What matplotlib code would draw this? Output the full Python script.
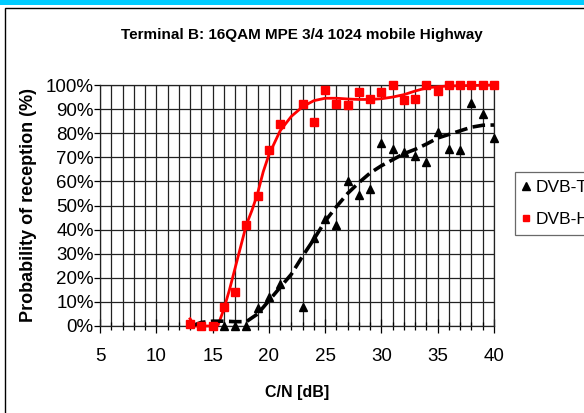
import matplotlib
matplotlib.use("Agg")
import matplotlib.pyplot as plt
from matplotlib.patches import Rectangle
from matplotlib.ticker import MultipleLocator, FuncFormatter

plt.rcParams['font.family'] = ['Liberation Sans', 'DejaVu Sans']

# Measured points
dvbh_x = [13, 14, 15, 16, 17, 18, 19, 20, 21, 23, 24, 25, 26, 27, 28, 29, 30,
          31, 32, 33, 34, 35, 36, 37, 38, 39, 40]
dvbh_y = [1, 0, 0, 8, 14, 42, 54, 73, 84, 92, 84.5, 97.8, 92, 91.6, 97.2, 94.3, 97.2,
          100, 93.6, 94.3, 100, 97.6, 100, 100, 100, 100, 100]

dvbt_x = [16, 17, 18, 19, 20, 21, 23, 24, 25, 26, 27, 28, 29, 30, 31, 32, 33,
          34, 35, 36, 37, 38, 39, 40]
dvbt_y = [0, 0, 0, 7.5, 12, 17.5, 8, 36.7, 44.3, 42, 60.2, 54.2, 57, 75.9, 73.5, 72.3, 70.5,
          68, 80.4, 73.3, 73, 92.7, 87.8, 78]

# Trend lines
trend_h_x = [13, 13.4, 14, 15, 15.5, 16, 16.5, 17, 17.5, 18, 18.5, 19, 19.5, 20, 21, 22,
             23, 24, 25, 26, 27, 28, 29, 30, 31, 32, 33, 34, 35, 36, 37, 38, 39, 40]
trend_h_y = [3, 0, 0, 0, 0.5, 7, 15, 24, 33, 42, 48, 55, 64, 71, 81, 87,
             91, 93.5, 94.5, 94.5, 94.2, 94, 94, 94.3, 95, 96, 97.5, 98.8, 99.3, 99.6, 99.7, 99.8, 99.9, 100]

trend_t_x = [13.3, 14, 15, 16, 17, 18, 19, 20, 21, 22, 23, 24, 25, 26, 27, 28, 29, 30,
             31, 32, 33, 34, 35, 36, 37, 38, 39, 40]
trend_t_y = [0.3, 1.5, 2, 2, 1.8, 1.8, 5, 10.5, 16, 21.5, 29, 36, 43.5, 49.5, 55, 59.5, 63.5, 66.5,
             69, 71.5, 73.3, 75.5, 78, 79.5, 81, 82.5, 83.3, 83.4]

title = "Terminal B: 16QAM MPE 3/4 1024 mobile Highway"
xlabel = "C/N [dB]"
ylabel = "Probability of reception (%)"

W, H = 584, 413
fig = plt.figure(figsize=(W / 100, H / 100), dpi=100)

# decorative frame
fig.patches.append(Rectangle((0, 1 - 5 / H), 1, 5 / H, transform=fig.transFigure,
                             facecolor='#00CCFF', edgecolor='none', zorder=0))
fig.patches.append(Rectangle((5 / W, -0.1), 2, (H - 8) / H + 0.1, transform=fig.transFigure,
                             facecolor='none', edgecolor='black', linewidth=1.0, zorder=0))

L, R, T, B = 100, 494, 85, 326
ax = fig.add_axes([L / W, (H - B) / H, (R - L) / W, (B - T) / H])

ax.plot(trend_h_x, trend_h_y, color='#FF0000', lw=2.0, zorder=3, clip_on=False)
ax.plot(trend_t_x, trend_t_y, color='black', lw=2.6, zorder=3, dashes=(3.5, 1.5), clip_on=False)
ax.plot(dvbt_x, dvbt_y, linestyle='none', marker='^', ms=6, color='black',
        zorder=4, clip_on=False, label='DVB-T')
ax.plot(dvbh_x, dvbh_y, linestyle='none', marker='s', ms=5.5, color='#FF0000',
        zorder=5, clip_on=False, label='DVB-H')

ax.set_xlim(5, 40)
ax.set_ylim(0, 100)
ax.xaxis.set_major_locator(MultipleLocator(5))
ax.xaxis.set_minor_locator(MultipleLocator(1))
ax.yaxis.set_major_locator(MultipleLocator(10))
ax.yaxis.set_major_formatter(FuncFormatter(lambda v, p: f"{int(round(v))}%"))
ax.grid(True, which='both', axis='x', color='#222222', lw=0.9)
ax.grid(True, which='major', axis='y', color='#222222', lw=0.9)
ax.set_axisbelow(True)
for s in ax.spines.values():
    s.set_color('#222222')
    s.set_linewidth(0.9)
ax.tick_params(axis='x', which='major', direction='inout', length=10, width=0.9, labelsize=13.5, pad=11)
ax.tick_params(axis='x', which='minor', direction='inout', length=6, width=0.9)
ax.tick_params(axis='y', which='major', direction='out', length=4, width=0.9, labelsize=13.5, pad=0.5)

ax.set_title(title, fontsize=11, fontweight='bold', pad=33, x=0.513)
ax.set_xlabel(xlabel, fontsize=11.5, fontweight='bold', labelpad=14)
ax.set_ylabel(ylabel, fontsize=13, fontweight='bold', labelpad=6)

leg = ax.legend(loc='upper left', bbox_to_anchor=((515 - L) / (R - L), (B - 172) / (B - T)),
                frameon=True, fancybox=False, fontsize=12.5, handlelength=0.4, handletextpad=0.35,
                borderpad=0.45, labelspacing=1.0, borderaxespad=0, markerscale=0.85)
leg.get_frame().set_edgecolor('#444444')
leg.get_frame().set_linewidth(0.9)

fig.savefig('out.png', dpi=100)
